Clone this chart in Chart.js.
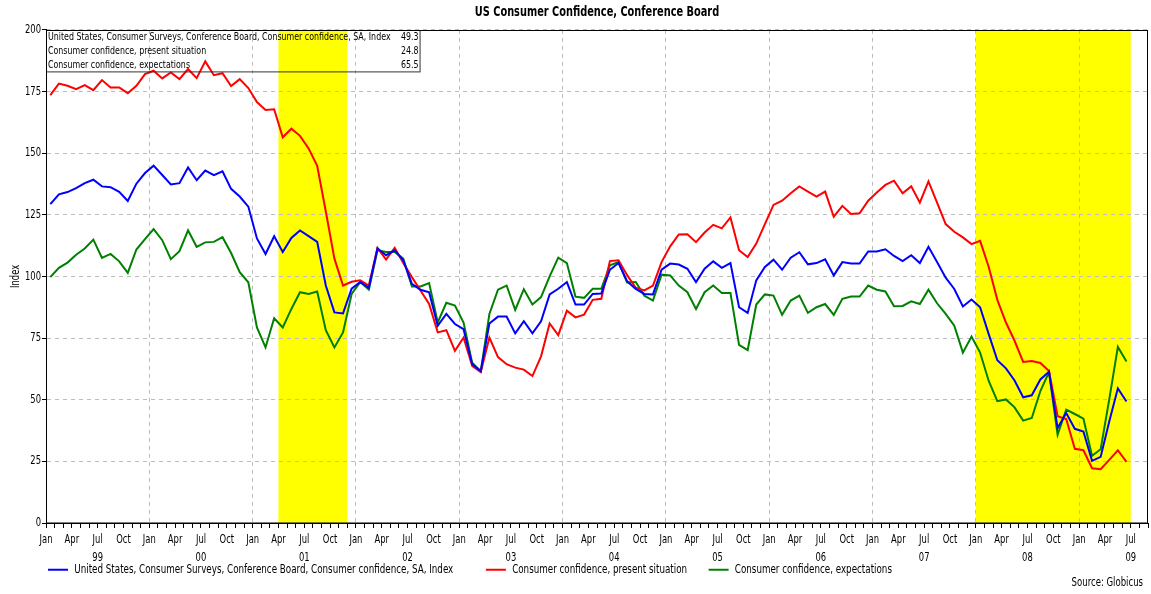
<!DOCTYPE html>
<html>
<head>
<meta charset="utf-8">
<title>US Consumer Confidence, Conference Board</title>
<script src="https://cdn.jsdelivr.net/npm/chart.js@4.4.0/dist/chart.umd.min.js"></script>
<style>
  html, body { margin: 0; padding: 0; background: #fff; }
  canvas { display: block; }
</style>
</head>
<body>
<canvas id="confChart" width="1151" height="594"></canvas>
<script>
// monthly, Jan 1999 .. Jun 2009
const monthNames = ["Jan", "Feb", "Mar", "Apr", "May", "Jun", "Jul", "Aug", "Sep", "Oct", "Nov", "Dec"];
const firstYear = 1999;

const confidence = [
  129.3, 133.3, 134.2, 135.8, 137.8, 139.2, 136.5, 136.2, 134.3, 130.6, 137.6, 141.9,
  144.9, 141.1, 137.3, 137.8, 144.2, 139.0, 142.9, 141.1, 142.6, 135.5, 132.4, 128.3,
  115.4, 109.1, 116.3, 109.9, 115.6, 118.6, 116.3, 114.0, 96.3, 85.4, 85.0, 95.0,
  97.7, 95.4, 111.3, 108.6, 110.6, 106.5, 97.0, 94.6, 93.6, 80.0, 84.8, 80.7,
  78.6, 64.4, 61.6, 80.9, 83.7, 83.7, 76.9, 81.8, 76.9, 81.8, 92.7, 95.0,
  97.7, 88.6, 88.6, 92.9, 93.1, 102.7, 105.4, 98.0, 94.9, 92.9, 92.7, 102.7,
  105.2, 104.8, 103.1, 97.7, 103.1, 106.1, 103.5, 105.4, 87.5, 85.2, 98.4, 103.8,
  106.8, 102.7, 107.6, 109.8, 104.9, 105.4, 106.9, 100.4, 105.8, 105.2, 105.2, 110.1,
  110.1, 111.0, 108.3, 106.2, 108.6, 105.4, 112.0, 105.8, 99.5, 94.9, 87.8, 90.6,
  87.5, 76.6, 66.0, 62.7, 57.8, 51.0, 51.8, 58.2, 61.3, 38.5, 44.6, 38.2,
  37.1, 25.2, 26.8, 41.2, 54.6, 49.3
];

const presentSituation = [
  173.5, 178.2, 177.3, 175.9, 177.6, 175.5, 179.6, 176.6, 176.6, 174.3, 177.3, 182.0,
  183.4, 180.3, 182.7, 180.0, 184.1, 180.4, 187.2, 181.6, 182.4, 177.2, 180.0, 176.4,
  170.7, 167.5, 167.8, 156.4, 159.9, 157.0, 151.9, 144.8, 126.3, 107.2, 96.3, 97.8,
  98.4, 96.3, 111.6, 106.8, 111.6, 105.4, 99.7, 94.3, 88.8, 77.3, 78.2, 69.8,
  75.2, 63.7, 61.2, 75.2, 67.3, 64.4, 63.0, 62.2, 59.6, 67.6, 80.9, 76.2,
  86.1, 83.4, 84.5, 90.5, 90.9, 106.2, 106.5, 100.5, 95.4, 94.3, 96.3, 105.8,
  112.2, 117.0, 117.1, 113.9, 117.8, 120.9, 119.5, 123.9, 110.6, 107.9, 113.3, 121.2,
  129.0, 130.7, 133.7, 136.5, 134.4, 132.4, 134.4, 124.2, 128.6, 125.3, 125.6, 130.7,
  134.0, 137.1, 138.8, 133.7, 136.5, 129.9, 138.5, 129.9, 121.2, 118.1, 115.8, 113.1,
  114.4, 103.8, 90.5, 81.3, 73.9, 65.3, 65.7, 64.9, 61.6, 43.3, 42.2, 30.1,
  29.5, 22.2, 21.8, 25.6, 29.5, 24.8
];

const expectations = [
  99.7, 103.5, 105.6, 108.8, 111.3, 114.9, 107.5, 109.1, 106.1, 101.4, 110.9, 115.1,
  119.2, 114.7, 107.0, 110.2, 118.7, 112.0, 113.8, 114.0, 115.9, 109.5, 101.7, 97.6,
  79.3, 71.2, 83.0, 79.3, 86.8, 93.6, 92.9, 93.9, 78.2, 71.2, 77.3, 92.9,
  97.7, 94.6, 110.6, 109.9, 109.9, 107.2, 95.9, 95.9, 97.3, 81.3, 89.3, 88.2,
  81.3, 65.0, 61.6, 84.8, 94.6, 96.3, 86.4, 94.8, 88.6, 91.6, 100.0, 107.6,
  105.4, 91.8, 91.3, 95.0, 95.0, 104.5, 105.8, 97.5, 97.7, 92.2, 90.2, 100.7,
  100.4, 96.3, 93.6, 86.8, 93.6, 96.3, 93.3, 93.3, 72.2, 70.1, 88.6, 92.7,
  92.2, 84.4, 90.2, 92.2, 85.2, 87.5, 88.8, 84.4, 90.9, 91.8, 91.8, 96.3,
  94.6, 93.9, 87.9, 88.0, 89.9, 88.8, 94.6, 89.1, 84.8, 80.0, 69.1, 75.6,
  69.1, 57.6, 49.4, 50.1, 46.9, 41.5, 42.6, 53.5, 61.2, 35.8, 46.0, 44.2,
  42.3, 27.3, 29.9, 50.1, 71.4, 65.5
];

const seriesNames = [
  "United States, Consumer Surveys, Conference Board, Consumer confidence, SA, Index",
  "Consumer confidence, present situation",
  "Consumer confidence, expectations"
];

// recessions, as [start month, end month) counted from Jan 1999
const recessions = [[27, 35], [108, 126]];

const chartTitle = "US Consumer Confidence, Conference Board";
const sourceText = "Source: Globicus";

const FONT = "'DejaVu Sans', sans-serif";
Chart.defaults.font.family = FONT;
Chart.defaults.font.size = 12;
Chart.defaults.color = "#000";

// the original uses a narrow face; squeeze every text run on this canvas
const squeeze = 0.7;
const canvas = document.getElementById("confChart");
const ctx = canvas.getContext("2d");
const proto = CanvasRenderingContext2D.prototype;
ctx.fillText = function (text, x, y, maxWidth) {
  this.save();
  this.translate(x, y);
  this.scale(squeeze, 1);
  if (maxWidth === undefined) proto.fillText.call(this, text, 0, 0);
  else proto.fillText.call(this, text, 0, 0, maxWidth / squeeze);
  this.restore();
};
ctx.measureText = function (text) {
  const m = proto.measureText.call(this, text);
  return {
    width: m.width * squeeze,
    actualBoundingBoxLeft: m.actualBoundingBoxLeft * squeeze,
    actualBoundingBoxRight: m.actualBoundingBoxRight * squeeze,
    actualBoundingBoxAscent: m.actualBoundingBoxAscent,
    actualBoundingBoxDescent: m.actualBoundingBoxDescent,
    fontBoundingBoxAscent: m.fontBoundingBoxAscent,
    fontBoundingBoxDescent: m.fontBoundingBoxDescent
  };
};

// each monthly value sits in the middle of its month
const toPoints = values => values.map((v, i) => ({ x: i + 0.5, y: v }));

const recessionShade = {
  id: "recessionShade",
  beforeDraw(chart) {
    const { ctx, chartArea, scales: { x } } = chart;
    ctx.save();
    ctx.fillStyle = "#ffff00";
    recessions.forEach(([from, to]) => {
      const x1 = x.getPixelForValue(from);
      const x2 = x.getPixelForValue(to);
      ctx.fillRect(x1, chartArea.top, x2 - x1, chartArea.bottom - chartArea.top);
    });
    ctx.restore();
  }
};

const valueBox = {
  id: "valueBox",
  afterDatasetsDraw(chart) {
    const { ctx, chartArea } = chart;
    const rows = chart.data.datasets.map(ds => [ds.label, ds.data[ds.data.length - 1].y.toFixed(1)]);
    const left = Math.round(chartArea.left) + 0.5;
    const top = Math.round(chartArea.top) + 0.5;
    ctx.save();
    ctx.font = "11.3px " + FONT;
    const labelW = Math.max(...rows.map(r => ctx.measureText(r[0]).width));
    const w = labelW + 31;
    const rowH = 13.8;
    ctx.fillStyle = "#000";
    ctx.textBaseline = "middle";
    rows.forEach((r, i) => {
      const y = top + 6.5 + i * rowH;
      ctx.textAlign = "left";
      ctx.fillText(r[0], left + 1.5, y);
      ctx.textAlign = "right";
      ctx.fillText(r[1], left + w - 1.5, y);
    });
    ctx.lineWidth = 1;
    ctx.strokeStyle = "#333";
    ctx.strokeRect(left, top, w, rowH * 3);
    // frame round the plot
    ctx.strokeStyle = "#000";
    ctx.strokeRect(left, top, Math.round(chartArea.right) - left - 0.5, Math.round(chartArea.bottom) - top);
    ctx.restore();
  }
};

const sourceNote = {
  id: "sourceNote",
  afterDraw(chart) {
    const { ctx } = chart;
    ctx.save();
    ctx.font = "12.2px " + FONT;
    ctx.fillStyle = "#000";
    ctx.textAlign = "right";
    ctx.textBaseline = "middle";
    ctx.fillText(sourceText, chart.width - 8, chart.height - 11);
    ctx.restore();
  }
};

const colors = ["#0000ff", "#ff0000", "#008000"];
const datasets = [confidence, presentSituation, expectations].map((values, i) => ({
  label: seriesNames[i],
  data: toPoints(values),
  borderColor: colors[i],
  backgroundColor: colors[i],
  borderWidth: 2,
  pointRadius: 0,
  pointHoverRadius: 0,
  tension: 0,
  fill: false
}));

// blank space after each legend entry, in spaces
const legendGaps = [11, 7, 0];

new Chart(ctx, {
  type: "line",
  data: { datasets: datasets },
  plugins: [recessionShade, valueBox, sourceNote],
  options: {
    responsive: false,
    animation: false,
    layout: { padding: { top: 0, right: 1, bottom: 8, left: 0 } },
    plugins: {
      title: {
        display: true,
        text: chartTitle,
        fullSize: false,
        font: { size: 14, weight: "bold", lineHeight: 1.2 },
        padding: { top: 4, bottom: 9 }
      },
      legend: {
        position: "bottom",
        align: "start",
        fullSize: false,
        labels: {
          usePointStyle: true,
          pointStyle: "line",
          pointStyleWidth: 20,
          padding: 2,
          color: "#000",
          font: { size: 12.5 },
          generateLabels: chart => Chart.defaults.plugins.legend.labels.generateLabels(chart)
            .map((item, i) => Object.assign(item, { text: item.text + " ".repeat(legendGaps[i] || 0) }))
        }
      },
      tooltip: { enabled: false }
    },
    scales: {
      x: {
        type: "linear",
        min: 0,
        max: 128,
        afterBuildTicks: scale => {
          scale.ticks = Array.from({ length: 129 }, (_, k) => ({ value: k }));
        },
        afterFit: scale => { scale.height = 38.5; },
        ticks: {
          autoSkip: false,
          maxRotation: 0,
          minRotation: 0,
          padding: 3,
          font: { size: 12, lineHeight: 1.5 },
          callback: value => {
            if (value % 3 !== 0) return "";
            const name = monthNames[value % 12];
            if (value % 12 === 6) {
              const yy = String((firstYear + Math.floor(value / 12)) % 100).padStart(2, "0");
              return [name, yy];
            }
            return name;
          }
        },
        grid: {
          color: c => (c.tick && c.tick.value % 12 === 0 && c.tick.value > 0) ? "#bdbdbd" : "rgba(0,0,0,0)",
          tickColor: "#000",
          tickLength: 5
        },
        border: { color: "#000", dash: [4, 4] }
      },
      y: {
        min: 0,
        max: 200,
        afterFit: scale => { scale.width = 46; },
        ticks: { stepSize: 25, padding: 1, font: { size: 12 } },
        title: { display: true, text: "Index", padding: { top: 9, bottom: 0 }, font: { size: 12 } },
        grid: {
          color: c => (c.tick && c.tick.value > 0) ? "#bdbdbd" : "rgba(0,0,0,0)",
          tickColor: "#000",
          tickLength: 4
        },
        border: { color: "#000", dash: [4, 4] }
      }
    }
  }
});
</script>
</body>
</html>
